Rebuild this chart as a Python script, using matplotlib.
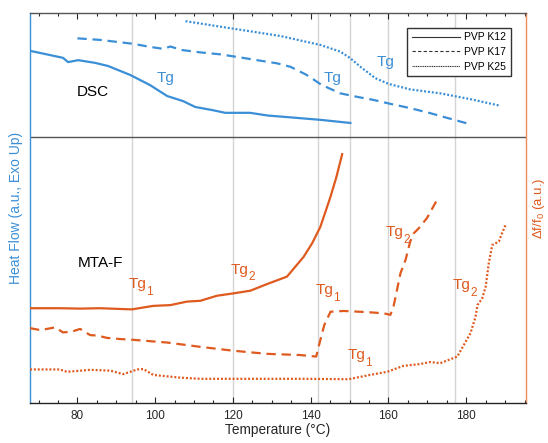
import matplotlib
matplotlib.use("Agg")
import matplotlib.pyplot as plt
from matplotlib.lines import Line2D
from matplotlib.ticker import MultipleLocator

plt.rcParams['font.family'] = ['Liberation Sans', 'DejaVu Sans']
plt.rcParams['mathtext.fontset'] = 'custom'
plt.rcParams['mathtext.rm'] = 'Liberation Sans'
plt.rcParams['mathtext.it'] = 'Liberation Sans'

BLUE = '#3B8FD6'
ORANGE = '#DF5A1E'

# ---- DSC heat flow (a.u., offset traces) ----
dsc_k12_T = [67.8, 73.0, 76.3, 77.6, 80.2, 84.6, 87.9, 93.6, 98.7, 103.1, 107.2,
             110.3, 114.7, 118.0, 124.4, 129.0, 134.0, 142.5, 150.2]
dsc_k12_y = [90.3, 89.2, 88.5, 87.4, 87.9, 87.2, 86.4, 84.1, 81.5, 78.7, 77.4,
             75.9, 75.1, 74.4, 74.4, 73.7, 73.3, 72.6, 71.8]

dsc_k17_T = [80.0, 85.8, 94.3, 98.7, 102.1, 103.9, 106.9, 111.6, 116.7, 121.9, 126.2,
             131.3, 134.8, 139.0, 142.9, 144.5, 147.6, 151.9, 156.2, 160.5, 165.6,
             170.8, 175.1, 180.2]
dsc_k17_y = [93.5, 93.1, 92.1, 91.3, 90.8, 91.4, 90.5, 89.9, 89.4, 88.6, 87.9,
             87.1, 86.2, 84.1, 81.5, 80.8, 79.4, 78.5, 77.7, 76.7, 75.6,
             74.3, 73.1, 71.7]

dsc_k25_T = [107.8, 116.7, 132.2, 142.5, 147.6, 150.2, 152.8, 156.6, 160.1, 165.6,
             173.3, 181.1, 188.8]
dsc_k25_y = [97.9, 96.5, 94.1, 91.8, 90.1, 88.4, 86.2, 83.3, 81.8, 80.4,
             79.4, 77.9, 76.2]

# ---- MTA-F frequency shift (a.u., offset traces) ----
mta_k12_T = [67.8, 75.5, 80.7, 85.8, 94.0, 99.5, 103.9, 108.2, 111.6, 115.9, 120.1,
             124.5, 128.8, 133.9, 138.2, 140.4, 142.5, 145.1, 146.6, 148.1]
mta_k12_y = [24.3, 24.3, 24.2, 24.3, 24.0, 24.9, 25.1, 26.0, 26.2, 27.5, 28.1,
             28.8, 30.5, 32.4, 37.5, 41.0, 45.2, 52.9, 57.9, 63.8]

mta_k17_T = [67.8, 70.4, 72.2, 74.3, 76.3, 78.6, 80.7, 83.3, 85.1, 87.6, 91.0, 94.3,
             103.1, 111.6, 120.1, 128.8, 137.3, 141.4, 142.5, 143.5, 145.1, 148.5,
             154.5, 158.8, 160.5, 161.3, 162.2, 163.1, 164.4, 165.6, 166.5, 167.8,
             169.9, 172.5]
mta_k17_y = [19.2, 18.7, 19.0, 19.4, 18.1, 18.3, 19.0, 17.4, 17.3, 16.7, 16.4, 16.2,
             15.5, 14.4, 13.4, 12.6, 12.3, 11.9, 16.2, 20.0, 23.4, 23.6,
             23.3, 23.0, 22.6, 24.7, 29.0, 33.3, 36.7, 41.4, 43.5, 44.8,
             47.4, 52.1]

mta_k25_T = [67.8, 75.5, 77.3, 83.3, 88.4, 91.8, 95.4, 97.0, 99.5, 106.4, 111.6,
             120.1, 127.0, 138.1, 149.7, 155.3, 159.7, 163.8, 168.2, 170.8, 173.3,
             177.7, 179.4, 181.1, 182.4, 182.9, 184.1, 185.0, 185.8, 186.7, 188.4,
             189.2, 190.1]
mta_k25_y = [8.6, 8.6, 8.0, 8.5, 8.3, 7.4, 8.6, 8.7, 7.2, 6.5, 6.2,
             6.2, 6.2, 6.2, 6.1, 7.2, 8.0, 9.5, 10.0, 10.5, 10.2,
             11.9, 14.9, 17.9, 22.1, 25.1, 26.8, 29.8, 35.8, 40.5, 41.4,
             43.5, 45.6]

# reference temperatures (°C) marked by vertical guides
guide_T = [94, 120, 142, 150, 160, 177]

series_names = ['PVP K12', 'PVP K17', 'PVP K25']

fig = plt.figure(figsize=(5.48, 4.43), dpi=100)
ax = fig.add_axes([0.0547, 0.0903, 0.9046, 0.8804])
ax.set_xlim(67.8, 195.3)
ax.set_ylim(0, 100)

for t in guide_T:
    ax.axvline(t, color='#d4d4d4', lw=1.0, zorder=1)
ax.axhline(68.2, color='#555555', lw=1.0, zorder=2)

lw = 1.6
dash = (0, (4.2, 2.6))
dot = (0, (0.9, 0.85))
ax.plot(dsc_k12_T, dsc_k12_y, color=BLUE, lw=lw, ls='-', zorder=3)
ax.plot(dsc_k17_T, dsc_k17_y, color=BLUE, lw=lw, ls=dash, zorder=3)
ax.plot(dsc_k25_T, dsc_k25_y, color=BLUE, lw=lw, ls=dot, zorder=3)
ax.plot(mta_k12_T, mta_k12_y, color=ORANGE, lw=lw, ls='-', zorder=3)
ax.plot(mta_k17_T, mta_k17_y, color=ORANGE, lw=lw, ls=dash, zorder=3)
ax.plot(mta_k25_T, mta_k25_y, color=ORANGE, lw=lw, ls=dot, zorder=3)

# annotations
ax.text(84.0, 79.8, 'DSC', fontsize=11, color='black', ha='center', va='center')
ax.text(85.8, 35.9, 'MTA-F', fontsize=11, color='black', ha='center', va='center')
for (tx, ty) in [(100.4, 82.3), (143.3, 82.3), (156.9, 86.4)]:
    ax.text(tx, ty, 'Tg', fontsize=11, color=BLUE, ha='left', va='baseline')


def tg_label(x, y, sub):
    ax.text(x, y, 'Tg', fontsize=11, color=ORANGE, ha='left', va='baseline')
    ax.annotate(sub, xy=(x, y), xytext=(12.8, -5.0), textcoords='offset points',
                fontsize=8.5, color=ORANGE, ha='left', va='baseline')


for (tx, ty, s) in [(93.05, 29.5, '1'), (119.3, 33.2, '2'), (141.2, 27.9, '1'),
                    (159.3, 42.8, '2'), (149.4, 11.3, '1'), (176.4, 29.2, '2')]:
    tg_label(tx, ty, s)

# axes styling
ax.set_yticks([])
ax.xaxis.set_major_locator(MultipleLocator(20))
ax.xaxis.set_minor_locator(MultipleLocator(5))
ax.tick_params(axis='x', which='major', direction='in', length=4.5, width=0.8,
               top=True, labelsize=8.5, colors='#262626', pad=5)
ax.tick_params(axis='x', which='minor', direction='in', length=2.5, width=0.8,
               top=True, colors='#262626')
ax.spines['left'].set_color(BLUE)
ax.spines['right'].set_color('#EC8A5C')
ax.spines['top'].set_color('#555555')
ax.spines['bottom'].set_color('#262626')
for s in ax.spines.values():
    s.set_linewidth(1.0)

ax.set_xlabel('Temperature (°C)', fontsize=9.8, color='#262626', labelpad=1)
ax.set_ylabel('Heat Flow (a.u., Exo Up)', fontsize=10, color=BLUE, labelpad=5)
ax.text(1.026, 0.5, r'$\Delta$f/f$_\mathrm{0}$ (a.u.)', transform=ax.transAxes,
        rotation=90, fontsize=9.5, color=ORANGE, ha='center', va='center')

handles = [Line2D([], [], color='#333333', lw=0.8, ls='-'),
           Line2D([], [], color='#333333', lw=0.8, ls=(0, (3, 2))),
           Line2D([], [], color='#333333', lw=0.8, ls=(0, (1, 0.6)))]
leg = ax.legend(handles, series_names, loc='upper right',
                bbox_to_anchor=(0.9697, 0.9623), borderaxespad=0,
                fontsize=7.5, handlelength=4.6, handletextpad=0.4,
                labelspacing=0.45, fancybox=False, framealpha=1,
                edgecolor='#333333', borderpad=0.45)
leg.get_frame().set_linewidth(1.0)
leg.set_zorder(5)

fig.savefig('out.png', dpi=100)
